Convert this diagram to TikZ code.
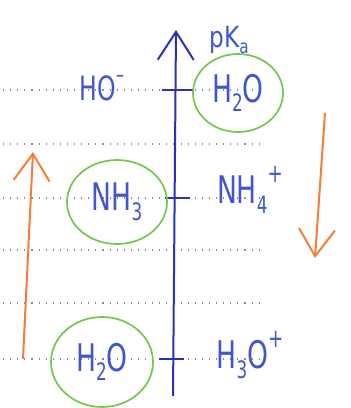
\documentclass[tikz,border=0pt]{standalone}
\usepackage{fontspec}
\setmainfont{DejaVu Sans}
\usetikzlibrary{arrows.meta}
\definecolor{axblue}{RGB}{40,50,185}
\definecolor{txblue}{RGB}{65,85,210}
\definecolor{cgreen}{RGB}{115,200,75}
\definecolor{corange}{RGB}{245,125,55}
\newcommand\lowr[1]{\raisebox{-0.25em}{\fontsize{24}{24}\selectfont #1}}
\newcommand\highr[1]{\raisebox{0.55em}{\fontsize{26}{26}\selectfont #1}}
\tikzset{
  dotline/.style={gray!90, line width=1.1pt, dash pattern=on 1.1pt off 6pt},
  axisline/.style={axblue, line width=2pt},
  chem/.style={txblue, inner sep=0pt, font=\fontsize{38}{38}\selectfont},
  ring/.style={cgreen, line width=1.7pt},
  bigarrow/.style={corange, line width=2pt, -{Straight Barb[length=27pt,width=36pt,line width=2pt]}},
}
\begin{document}
\begin{tikzpicture}[x=1pt,y=-1pt]
\useasboundingbox (0,0) rectangle (351,408);
% dotted guide lines
\foreach \yy in {90,144,198,250,303,359}
  \draw[dotline] (3,\yy) -- (262,\yy);
% axis
\coordinate (axbot) at (173,396);
\coordinate (axtop) at (176,30);
\draw[axisline,-{Straight Barb[length=28pt,width=36pt,line width=2pt]}] (axbot) -- (axtop);
\node[txblue, inner sep=0pt, font=\fontsize{29}{29}\selectfont] (pka) at (229,40) {\scalebox{0.8}[1]{pK\raisebox{-0.2em}{\fontsize{19}{19}\selectfont a}}};
% ticks
\coordinate (t1l) at (162,90); \coordinate (t1r) at (193,90);
\coordinate (t2l) at (165,198); \coordinate (t2r) at (190,198);
\coordinate (t3l) at (159,359); \coordinate (t3r) at (184,359);
\draw[axisline] (t1l) -- (t1r);
\draw[axisline] (t2l) -- (t2r);
\draw[axisline] (t3l) -- (t3r);
% labels
\node[chem] (hom) at (102,88) {\scalebox{0.62}[0.88]{HO\highr{–}}};
\node[chem] (h2otop) at (238,93) {\scalebox{0.7}[1]{H\lowr{2}O}};
\node[chem] (nh3) at (117,202) {\scalebox{0.7}[1]{NH\lowr{3}}};
\node[chem] (nh4) at (250,190) {\scalebox{0.7}[1]{NH\lowr{4}\highr{+}}};
\node[chem] (h2obot) at (102,362) {\scalebox{0.7}[1]{H\lowr{2}O}};
\node[chem] (h3o) at (250,355) {\scalebox{0.7}[1]{H\lowr{3}O\highr{+}}};
% green rings
\draw[ring] (h2otop) ellipse [x radius=45, y radius=39];
\draw[ring] (nh3) ellipse [x radius=50, y radius=42];
\draw[ring] (h2obot) ellipse [x radius=51, y radius=45];
% orange arrows
\coordinate (la1) at (23,359); \coordinate (la2) at (33,152);
\coordinate (ra1) at (325,113); \coordinate (ra2) at (315,258);
\draw[bigarrow] (la1) -- (la2);
\draw[bigarrow] (ra1) -- (ra2);
\end{tikzpicture}
\end{document}
